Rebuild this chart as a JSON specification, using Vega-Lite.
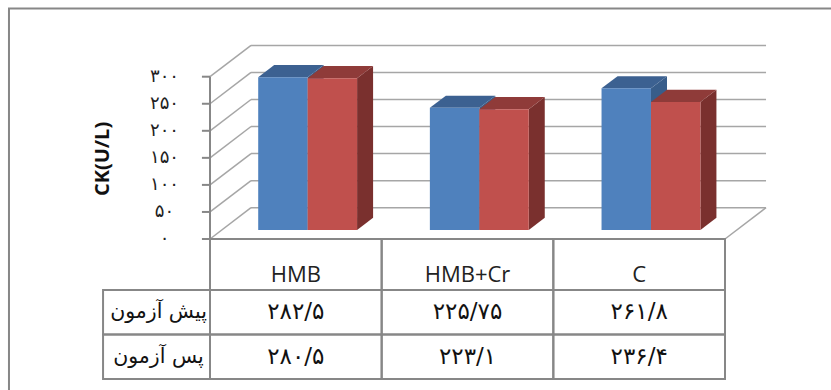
{
  "$schema": "https://vega.github.io/schema/vega-lite/v6.json",
  "width": 831,
  "height": 390,
  "padding": 0,
  "autosize": "none",
  "background": "white",
  "config": {
    "view": {"stroke": null},
    "locale": {
      "number": {
        "decimal": "/",
        "thousands": "",
        "grouping": [3],
        "currency": ["", ""],
        "numerals": ["۰", "۱", "۲", "۳", "۴", "۵", "۶", "۷", "۸", "۹"]
      }
    }
  },
  "datasets": {
    "ck": [
      {"group": "HMB", "test": "پیش آزمون", "ck": 282.5},
      {"group": "HMB+Cr", "test": "پیش آزمون", "ck": 225.75},
      {"group": "C", "test": "پیش آزمون", "ck": 261.8},
      {"group": "HMB", "test": "پس آزمون", "ck": 280.5},
      {"group": "HMB+Cr", "test": "پس آزمون", "ck": 223.1},
      {"group": "C", "test": "پس آزمون", "ck": 236.4}
    ],
    "ticks": [
      {"v": 0}, {"v": 50}, {"v": 100}, {"v": 150}, {"v": 200}, {"v": 250}, {"v": 300}
    ],
    "one": [{}]
  },
  "resolve": {"scale": {"y": "independent"}},
  "layer": [
    {
      "layer": [
        {
          "data": {"name": "one"},
          "mark": {"type": "rect", "fill": "transparent", "stroke": "#878787", "strokeWidth": 2},
          "encoding": {
            "x": {"datum": -1.171, "type": "quantitative", "scale": {"type": "linear", "domain": [0, 3], "range": [210, 725], "nice": false, "zero": false}, "axis": null},
            "x2": {"datum": 4},
            "y": {"datum": 426, "type": "quantitative", "scale": {"type": "linear", "domain": [0, 300], "range": [239, 76.7], "nice": false, "zero": false}, "axis": null},
            "y2": {"datum": -400}
          }
        },
        {
          "data": {"name": "ticks"},
          "transform": [{"calculate": "datum.v + 57.9", "as": "vb"}],
          "layer": [
            {
              "mark": {"type": "rule", "color": "#a6a6a6", "strokeWidth": 1.5},
              "encoding": {
                "x": {"datum": 0.239, "type": "quantitative", "scale": {"type": "linear", "domain": [0, 3], "range": [210, 725], "nice": false, "zero": false}, "axis": null},
                "x2": {"datum": 3.239},
                "y": {"field": "vb", "type": "quantitative", "scale": {"type": "linear", "domain": [0, 300], "range": [239, 76.7], "nice": false, "zero": false}, "axis": null}
              }
            },
            {
              "mark": {"type": "rule", "color": "#a6a6a6", "strokeWidth": 1.5},
              "encoding": {
                "x": {"datum": 0, "type": "quantitative", "scale": {"type": "linear", "domain": [0, 3], "range": [210, 725], "nice": false, "zero": false}, "axis": null},
                "x2": {"datum": 0.239},
                "y": {"field": "v", "type": "quantitative", "scale": {"type": "linear", "domain": [0, 300], "range": [239, 76.7], "nice": false, "zero": false}, "axis": null},
                "y2": {"field": "vb"}
              }
            },
            {
              "mark": {"type": "rule", "color": "#878787", "strokeWidth": 2},
              "encoding": {
                "x": {"datum": -0.047, "type": "quantitative", "scale": {"type": "linear", "domain": [0, 3], "range": [210, 725], "nice": false, "zero": false}, "axis": null},
                "x2": {"datum": 0},
                "y": {"field": "v", "type": "quantitative", "scale": {"type": "linear", "domain": [0, 300], "range": [239, 76.7], "nice": false, "zero": false}, "axis": null}
              }
            },
            {
              "mark": {"type": "text", "font": "DejaVu Sans", "fontSize": 18, "color": "#222222", "align": "center", "baseline": "middle"},
              "encoding": {
                "x": {"datum": -0.265, "type": "quantitative", "scale": {"type": "linear", "domain": [0, 3], "range": [210, 725], "nice": false, "zero": false}, "axis": null},
                "y": {"field": "v", "type": "quantitative", "scale": {"type": "linear", "domain": [0, 300], "range": [239, 76.7], "nice": false, "zero": false}, "axis": null},
                "text": {"field": "v", "type": "quantitative", "format": "d"}
              }
            }
          ]
        },
        {
          "data": {"name": "one"},
          "layer": [
            {
              "mark": {"type": "rule", "color": "#a6a6a6", "strokeWidth": 1.5},
              "encoding": {
                "x": {"datum": 3, "type": "quantitative", "scale": {"type": "linear", "domain": [0, 3], "range": [210, 725], "nice": false, "zero": false}, "axis": null},
                "x2": {"datum": 3.239},
                "y": {"datum": 0, "type": "quantitative", "scale": {"type": "linear", "domain": [0, 300], "range": [239, 76.7], "nice": false, "zero": false}, "axis": null},
                "y2": {"datum": 57.9}
              }
            },
            {
              "mark": {"type": "rule", "color": "#878787", "strokeWidth": 2},
              "encoding": {
                "x": {"datum": 0, "type": "quantitative", "scale": {"type": "linear", "domain": [0, 3], "range": [210, 725], "nice": false, "zero": false}, "axis": null},
                "y": {"datum": 0, "type": "quantitative", "scale": {"type": "linear", "domain": [0, 300], "range": [239, 76.7], "nice": false, "zero": false}, "axis": null},
                "y2": {"datum": 300}
              }
            },
            {
              "mark": {"type": "text", "text": "CK(U/L)", "font": "Open Sans", "fontWeight": "bold", "fontSize": 20, "angle": 270, "color": "#111111", "align": "center", "baseline": "middle"},
              "encoding": {
                "x": {"datum": -0.623, "type": "quantitative", "scale": {"type": "linear", "domain": [0, 3], "range": [210, 725], "nice": false, "zero": false}, "axis": null},
                "y": {"datum": 148, "type": "quantitative", "scale": {"type": "linear", "domain": [0, 300], "range": [239, 76.7], "nice": false, "zero": false}, "axis": null}
              }
            }
          ]
        },
        {
          "data": {"name": "ck"},
          "transform": [
            {"calculate": "indexof(['HMB', 'HMB+Cr', 'C'], datum.group)", "as": "gi"},
            {"calculate": "datum.test == 'پیش آزمون' ? 0 : 1", "as": "si"},
            {"calculate": "datum.gi + 0.212 + datum.si * 0.288", "as": "xl"},
            {"calculate": "datum.xl + 0.288", "as": "xr"},
            {"calculate": "datum.group + '|' + datum.si", "as": "bid"}
          ],
          "layer": [
            {
              "transform": [
                {"calculate": "0.288", "as": "near"},
                {"calculate": "0.678", "as": "far"},
                {"fold": ["near", "far"], "as": ["edge", "depth"]},
                {"calculate": "datum.xl + datum.depth * 0.239", "as": "dl"},
                {"calculate": "datum.xr + datum.depth * 0.239", "as": "dr"},
                {"calculate": "datum.ck + datum.depth * 57.9", "as": "dt"},
                {"calculate": "datum.depth * 57.9", "as": "db"}
              ],
              "layer": [
                {
                  "mark": {"type": "area", "orient": "vertical"},
                  "encoding": {
                    "x": {"field": "dr", "type": "quantitative", "scale": {"type": "linear", "domain": [0, 3], "range": [210, 725], "nice": false, "zero": false}, "axis": null},
                    "y": {"field": "dt", "type": "quantitative", "scale": {"type": "linear", "domain": [0, 300], "range": [239, 76.7], "nice": false, "zero": false}, "axis": null, "stack": null},
                    "y2": {"field": "db"},
                    "detail": {"field": "bid"},
                    "fill": {"condition": {"test": "datum.si == 0", "value": "#385d8a"}, "value": "#7a302e"}
                  }
                },
                {
                  "mark": {"type": "area", "orient": "horizontal"},
                  "encoding": {
                    "y": {"field": "dt", "type": "quantitative", "scale": {"type": "linear", "domain": [0, 300], "range": [239, 76.7], "nice": false, "zero": false}, "axis": null},
                    "x": {"field": "dl", "type": "quantitative", "scale": {"type": "linear", "domain": [0, 3], "range": [210, 725], "nice": false, "zero": false}, "axis": null, "stack": null},
                    "x2": {"field": "dr"},
                    "detail": {"field": "bid"},
                    "fill": {"condition": {"test": "datum.si == 0", "value": "#3c6191"}, "value": "#8f3b39"}
                  }
                }
              ]
            },
            {
              "transform": [
                {"calculate": "datum.xl + 0.0688", "as": "fl"},
                {"calculate": "datum.xr + 0.0688", "as": "fr"},
                {"calculate": "datum.ck + 16.7", "as": "ft"}
              ],
              "mark": {"type": "rect"},
              "encoding": {
                "x": {"field": "fl", "type": "quantitative", "scale": {"type": "linear", "domain": [0, 3], "range": [210, 725], "nice": false, "zero": false}, "axis": null},
                "x2": {"field": "fr"},
                "y": {"field": "ft", "type": "quantitative", "scale": {"type": "linear", "domain": [0, 300], "range": [239, 76.7], "nice": false, "zero": false}, "axis": null},
                "y2": {"datum": 16.7},
                "fill": {"condition": {"test": "datum.si == 0", "value": "#4f81bd"}, "value": "#c0504d"}
              }
            }
          ]
        }
      ]
    },
    {
      "data": {"name": "ck"},
      "transform": [
        {"calculate": "indexof(['HMB', 'HMB+Cr', 'C'], datum.group)", "as": "gi"},
        {"calculate": "datum.gi + 1", "as": "gj"},
        {"calculate": "datum.gi + 0.5", "as": "gc"},
        {"calculate": "datum.test == 'پیش آزمون' ? 1 : 2", "as": "ri"},
        {"calculate": "datum.ri + 1", "as": "rj"},
        {"calculate": "datum.ri + 0.5", "as": "rc"}
      ],
      "layer": [
        {
          "mark": {"type": "rect", "fill": "transparent", "stroke": "#878787", "strokeWidth": 2},
          "encoding": {
            "x": {"field": "gi", "type": "quantitative", "scale": {"type": "linear", "domain": [0, 3], "range": [210, 725], "nice": false, "zero": false}, "axis": null},
            "x2": {"field": "gj"},
            "y": {"field": "ri", "type": "quantitative", "scale": {"type": "linear", "domain": [0, 1, 2, 3], "range": [239, 290, 334.5, 379], "nice": false, "zero": false}, "axis": null},
            "y2": {"field": "rj"}
          }
        },
        {
          "transform": [{"filter": "datum.ri == 1"}],
          "layer": [
            {
              "mark": {"type": "rect", "fill": "transparent", "stroke": "#878787", "strokeWidth": 2},
              "encoding": {
                "x": {"field": "gi", "type": "quantitative", "scale": {"type": "linear", "domain": [0, 3], "range": [210, 725], "nice": false, "zero": false}, "axis": null},
                "x2": {"field": "gj"},
                "y": {"datum": 0, "type": "quantitative", "scale": {"type": "linear", "domain": [0, 1, 2, 3], "range": [239, 290, 334.5, 379], "nice": false, "zero": false}, "axis": null},
                "y2": {"datum": 1}
              }
            },
            {
              "mark": {"type": "text", "font": "Open Sans", "fontSize": 22, "color": "#222222", "align": "center", "baseline": "middle", "dy": 10},
              "encoding": {
                "x": {"field": "gc", "type": "quantitative", "scale": {"type": "linear", "domain": [0, 3], "range": [210, 725], "nice": false, "zero": false}, "axis": null},
                "y": {"datum": 0.5, "type": "quantitative", "scale": {"type": "linear", "domain": [0, 1, 2, 3], "range": [239, 290, 334.5, 379], "nice": false, "zero": false}, "axis": null},
                "text": {"field": "group"}
              }
            }
          ]
        },
        {
          "transform": [{"filter": "datum.gi == 0"}],
          "layer": [
            {
              "mark": {"type": "rect", "fill": "transparent", "stroke": "#878787", "strokeWidth": 2},
              "encoding": {
                "x": {"datum": -0.623, "type": "quantitative", "scale": {"type": "linear", "domain": [0, 3], "range": [210, 725], "nice": false, "zero": false}, "axis": null},
                "x2": {"datum": 0},
                "y": {"field": "ri", "type": "quantitative", "scale": {"type": "linear", "domain": [0, 1, 2, 3], "range": [239, 290, 334.5, 379], "nice": false, "zero": false}, "axis": null},
                "y2": {"field": "rj"}
              }
            },
            {
              "mark": {"type": "text", "font": "DejaVu Sans", "fontSize": 20.5, "color": "#111111", "align": "center", "baseline": "middle"},
              "encoding": {
                "x": {"datum": -0.3, "type": "quantitative", "scale": {"type": "linear", "domain": [0, 3], "range": [210, 725], "nice": false, "zero": false}, "axis": null},
                "y": {"field": "rc", "type": "quantitative", "scale": {"type": "linear", "domain": [0, 1, 2, 3], "range": [239, 290, 334.5, 379], "nice": false, "zero": false}, "axis": null},
                "text": {"field": "test"}
              }
            }
          ]
        },
        {
          "mark": {"type": "text", "font": "DejaVu Sans", "fontSize": 23, "color": "#111111", "align": "center", "baseline": "middle"},
          "encoding": {
            "x": {"field": "gc", "type": "quantitative", "scale": {"type": "linear", "domain": [0, 3], "range": [210, 725], "nice": false, "zero": false}, "axis": null},
            "y": {"field": "rc", "type": "quantitative", "scale": {"type": "linear", "domain": [0, 1, 2, 3], "range": [239, 290, 334.5, 379], "nice": false, "zero": false}, "axis": null},
            "text": {"field": "ck", "type": "quantitative", "format": ".2~f"}
          }
        }
      ]
    }
  ]
}
